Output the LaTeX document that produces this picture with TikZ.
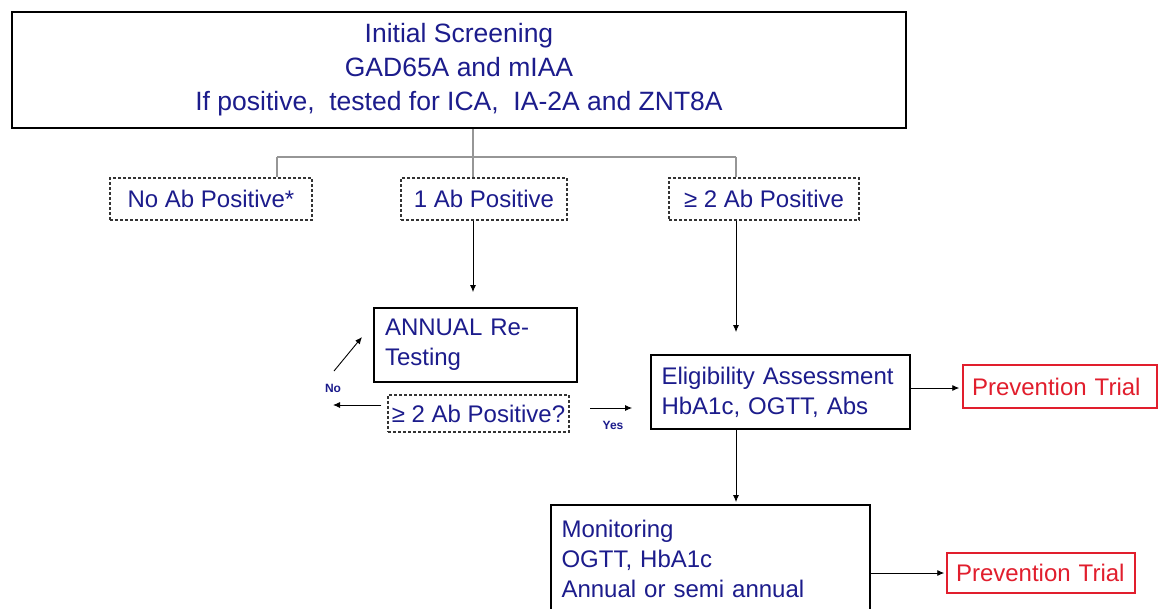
\documentclass[tikz,border=0pt]{standalone}
\usepackage{fontspec}
\setmainfont{Liberation Sans}
\usetikzlibrary{arrows.meta,calc}
\definecolor{navy}{RGB}{28,28,140}
\definecolor{trialred}{RGB}{225,30,45}
\definecolor{treegray}{RGB}{150,150,150}
\tikzset{
  solidbox/.style={draw=black,line width=1.8pt,inner sep=0pt,text=navy},
  dashbox/.style={draw=black!80,line width=1.3pt,dash pattern=on 3pt off 2pt,inner sep=0pt,text=navy},
  redbox/.style={draw=trialred,line width=1.5pt,inner sep=0pt,text=trialred},
  tree/.style={draw=treegray,line width=1.4pt},
  arr/.style={draw=black,line width=0.9pt,-{Latex[length=7pt,width=6pt]}},
  lbl/.style={text=navy,font=\fontsize{12}{14}\selectfont\bfseries,inner sep=0pt},
  big/.style={font=\fontsize{26.5}{34}\selectfont},
  mid/.style={font=\fontsize{24}{30}\selectfont}
}
\begin{document}
\begin{tikzpicture}[x=1pt,y=-1pt]
\useasboundingbox (0,0) rectangle (1158,608);
\clip (0,0) rectangle (1158,608);
\fill[white] (0,0) rectangle (1158,608);
% top box
\node[solidbox,big,minimum width=894,minimum height=116,align=center] (top) at (459,70)
  {Initial Screening\\GAD65A and mIAA\\If positive,\ \ tested for ICA,\ \ IA-2A and ZNT8A};
\coordinate (tr) at (473,128);
\coordinate (hb) at (473,157);
% level 2
\node[dashbox,mid,minimum width=202,minimum height=42] (none) at (211,199) {No Ab Positive*};
\node[dashbox,mid,minimum width=166,minimum height=42] (one) at (484,199) {1 Ab Positive};
\node[dashbox,mid,minimum width=190,minimum height=42] (two) at (764,199) {≥ 2 Ab Positive};
\coordinate (hl) at (277,157);
\coordinate (hr) at (736,157);
\draw[tree] (top.south -| tr) -- (hb);
\draw[tree] (hl) -- (hr);
\draw[tree] (hl) -- (hl |- none.north);
\draw[tree] (hb) -- (hb |- one.north);
\draw[tree] (hr) -- (hr |- two.north);
% annual
\node[solidbox,mid,minimum width=203,minimum height=74,text width=181,align=left] (annual) at (475.5,345)
  {ANNUAL Re-\\Testing};
\node[dashbox,mid,minimum width=181,minimum height=37] (q) at (478.5,413.5) {≥ 2 Ab Positive?};
\draw[arr,shorten >=15pt] (one.south -| tr) -- (annual.north -| tr);
\coordinate (noend) at (333,405);
\coordinate (diag1) at (334,371);
\coordinate (diag2) at (362,337);
\draw[arr,shorten <=6pt] (q.west |- noend) -- (noend);
\draw[arr] (diag1) -- (diag2);
\node[lbl] (no) at (333,388) {No};
% eligibility
\node[solidbox,mid,minimum width=259,minimum height=74,text width=238,align=left] (elig) at (780.5,392)
  {Eligibility Assessment\\HbA1c, OGTT, Abs};
\coordinate (yes1) at (590,408);
\draw[arr,shorten >=18pt] (yes1) -- (elig.west |- yes1);
\node[lbl] (yes) at (613,425) {Yes};
\draw[arr,shorten >=22pt] (two.south -| hr) -- (elig.north -| hr);
\node[redbox,mid,minimum width=194,minimum height=43,text width=176,align=left] (pt1) at (1060,386.5) {Prevention Trial};
\draw[arr,shorten >=3pt] (elig.east |- 0,388) -- (pt1.west |- 0,388);
% monitoring
\node[solidbox,mid,minimum width=319,minimum height=108,text width=298,align=left] (mon) at (710.5,559)
  {Monitoring\\OGTT, HbA1c\\Annual or semi annual};
\draw[arr,shorten >=2pt] (elig.south -| hr) -- (mon.north -| hr);
\node[redbox,mid,minimum width=188,minimum height=40,text width=170,align=left] (pt2) at (1041,573) {Prevention Trial};
\draw[arr,shorten >=2pt] (mon.east |- pt2) -- (pt2.west);
\end{tikzpicture}
\end{document}
